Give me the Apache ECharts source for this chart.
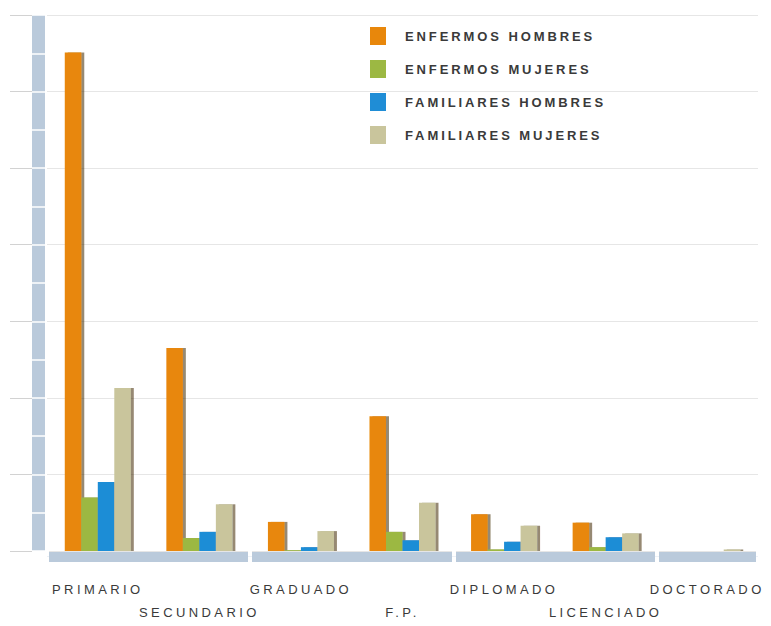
<!DOCTYPE html>
<html><head><meta charset="utf-8">
<script src="https://cdn.jsdelivr.net/npm/echarts@6/dist/echarts.min.js"></script>
<style>html,body{margin:0;padding:0;background:#fff}#c{width:771px;height:626px}
#c text{letter-spacing:2.9px}
#c text[style*="sans-serif"]{letter-spacing:3.4px}</style>
</head><body><div id="c"></div>
<script>
var categories = ['PRIMARIO','SECUNDARIO','GRADUADO','F.P.','DIPLOMADO','LICENCIADO','DOCTORADO'];
var seriesNames = ['ENFERMOS HOMBRES','ENFERMOS MUJERES','FAMILIARES HOMBRES','FAMILIARES MUJERES'];
var enfermosHombres = [65.1, 26.5, 3.8, 17.6, 4.8, 3.7, 0];
var enfermosMujeres = [7.0, 1.7, 0.1, 2.5, 0.2, 0.5, 0];
var familiaresHombres = [9.0, 2.5, 0.5, 1.4, 1.2, 1.8, 0];
var familiaresMujeres = [21.3, 6.1, 2.6, 6.3, 3.3, 2.3, 0.2];
var colors = ['#E8870B','#9CB843','#1F8DD6','#C9C59C'];
var bandColor = '#BACADB';

var chart = echarts.init(document.getElementById('c'), null, {renderer: 'svg'});
var dataSets = [enfermosHombres, enfermosMujeres, familiaresHombres, familiaresMujeres];
var series = dataSets.map(function(d, i){
  return {
    name: seriesNames[i], type: 'bar', data: d,
    xAxisIndex: 0, yAxisIndex: 0,
    barGap: '0%', barCategoryGap: '35%',
    itemStyle: {color: colors[i], shadowColor: 'rgba(60,40,0,0.55)', shadowOffsetX: 3, shadowBlur: 1},
    emphasis: {disabled: true}
  };
});
var yBase = {type: 'value', min: 0, max: 70, position: 'left', axisLabel: {show: false}, splitLine: {show: false}};
chart.setOption({
  animation: false,
  color: colors,
  grid: {left: 47, right: 13, top: 15, bottom: 75},
  legend: {
    orient: 'vertical', left: 365, top: 22, itemWidth: 16, itemHeight: 18, itemGap: 15,
    icon: 'rect', itemStyle: {shadowBlur: 0, shadowOffsetX: 0},
    textStyle: {fontFamily: 'Liberation Sans', fontSize: 13, fontWeight: 'bold', color: '#3a3a3a', padding: [0,0,0,14]},
    data: seriesNames
  },
  xAxis: [
    {type: 'category', data: categories, axisLine: {show: false}, axisTick: {show: false},
     axisLabel: {interval: 0, margin: 27, fontFamily: 'Liberation Sans, sans-serif', fontSize: 13, color: '#3a3a3a', lineHeight: 23,
       formatter: function(v, i){ return i % 2 === 1 ? '\n' + v : v; }}},
    {type: 'category', data: categories, position: 'bottom', offset: 5.5,
     axisLine: {show: true, onZero: false, lineStyle: {color: bandColor, width: 10, cap: 'butt'}},
     axisTick: {show: true, inside: true, length: 6, lineStyle: {color: '#fff', width: 4}},
     axisLabel: {show: false}},
    {type: 'category', data: categories, position: 'bottom', offset: 5.5,
     axisLine: {show: false, onZero: false},
     axisTick: {show: true, inside: false, length: 6, lineStyle: {color: '#fff', width: 4}},
     axisLabel: {show: false}}
  ],
  yAxis: [
    Object.assign({}, yBase, {interval: 10, offset: 0, axisLine: {show: false}, axisTick: {show: false},
      splitLine: {show: true, lineStyle: {color: '#e6e6e6', width: 1}}}),
    Object.assign({}, yBase, {interval: 10, offset: 8.5,
      axisLine: {show: true, lineStyle: {color: bandColor, width: 13, cap: 'butt'}}, axisTick: {show: false}}),
    Object.assign({}, yBase, {interval: 5, offset: 2,
      axisLine: {show: false}, axisTick: {show: true, length: 13, lineStyle: {color: '#fff', width: 1.5}}}),
    Object.assign({}, yBase, {interval: 10, offset: 15,
      axisLine: {show: false}, axisTick: {show: true, length: 22, lineStyle: {color: '#d2d2d2', width: 1}}})
  ],
  series: series
});
</script></body></html>
